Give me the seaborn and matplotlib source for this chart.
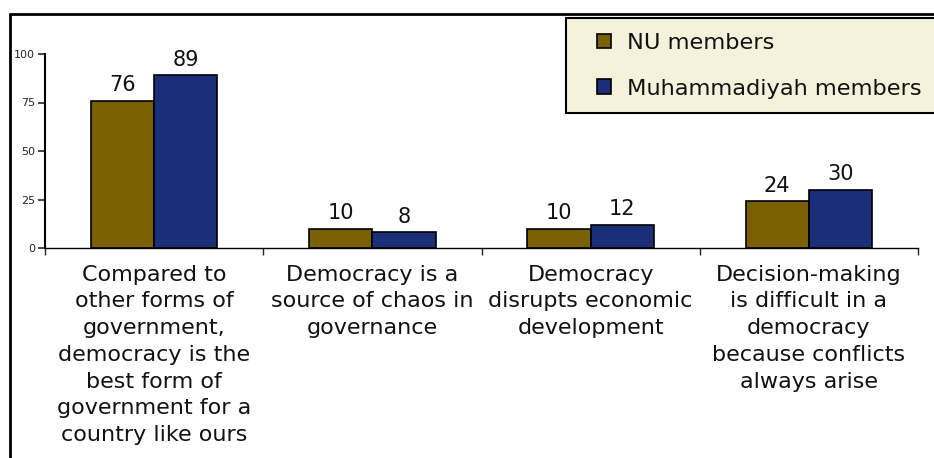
import pandas as pd
import seaborn as sns
import matplotlib.pyplot as plt
from matplotlib.lines import Line2D
from matplotlib.patches import Patch, Rectangle

# Data
categories = [
    "Compared to\nother forms of\ngovernment,\ndemocracy is the\nbest form of\ngovernment for a\ncountry like ours",
    "Democracy is a\nsource of chaos in\ngovernance",
    "Democracy\ndisrupts economic\ndevelopment",
    "Decision-making\nis difficult in a\ndemocracy\nbecause conflicts\nalways arise",
]
groups = ["NU members", "Muhammadiyah members"]
nu_values = [76, 10, 10, 24]
muh_values = [89, 8, 12, 30]
colors = ["#7A6000", "#1B2F78"]

df = pd.DataFrame({
    "category": categories * 2,
    "group": [groups[0]] * 4 + [groups[1]] * 4,
    "value": nu_values + muh_values,
})

sns.set_style("white")
plt.rcParams["font.family"] = ["DejaVu Sans"]

fig = plt.figure(figsize=(9.34, 4.58), dpi=100)
ax = fig.add_axes([45 / 934, 1 - 248 / 458, (918 - 45) / 934, 194 / 458])

sns.barplot(data=df, x="category", y="value", hue="group", palette=colors,
            saturation=1, width=0.58, edgecolor="black", linewidth=1.2, ax=ax, legend=False)

for cont in ax.containers:
    ax.bar_label(cont, fmt="%d", padding=4, fontsize=15, color="#111111")

ax.set_ylim(0, 100)
ax.set_xlim(-0.5, 3.5)
ax.set_yticks([0, 25, 50, 75, 100])
ax.tick_params(axis="y", labelsize=8, length=5, width=1.2, direction="out", left=True, pad=2)
ax.set_xticks(range(4))
ax.set_xticklabels(categories, fontsize=16, linespacing=1.42, color="#111111")
ax.tick_params(axis="x", which="major", length=0, pad=12)
ax.set_xticks([-0.5, 0.5, 1.5, 2.5, 3.5], minor=True)
ax.tick_params(axis="x", which="minor", length=5, width=1, direction="out", bottom=True)
ax.set_xlabel("")
ax.set_ylabel("")

sns.despine(ax=ax)
ax.spines["left"].set_linewidth(1.5)
ax.spines["bottom"].set_linewidth(1)
ax.spines["left"].set_color("black")
ax.spines["bottom"].set_color("black")

# outer chart frame (top and left edges visible)
fig.add_artist(Line2D([10 / 934, 1], [1 - 14 / 458, 1 - 14 / 458], color="black", lw=2))
fig.add_artist(Line2D([10 / 934, 10 / 934], [0, 1 - 14 / 458], color="black", lw=2))

# legend box, running off the right edge
fig.add_artist(Rectangle((566 / 934, 1 - 113 / 458), 400 / 934, 95 / 458,
                         facecolor="#F5F2DC", edgecolor="black", lw=1.5,
                         transform=fig.transFigure))

handles = [Patch(facecolor=c, edgecolor="black", linewidth=1.2) for c in colors]
leg = fig.legend(handles, groups, loc="upper left", bbox_to_anchor=(597 / 934, 1 - 33 / 458),
                 fontsize=16.2, frameon=False, handlelength=0.62, handleheight=0.62,
                 handletextpad=0.72, labelspacing=1.14, borderpad=0, borderaxespad=0)
for t in leg.get_texts():
    t.set_color("#111111")

fig.savefig("out.png", dpi=100)
